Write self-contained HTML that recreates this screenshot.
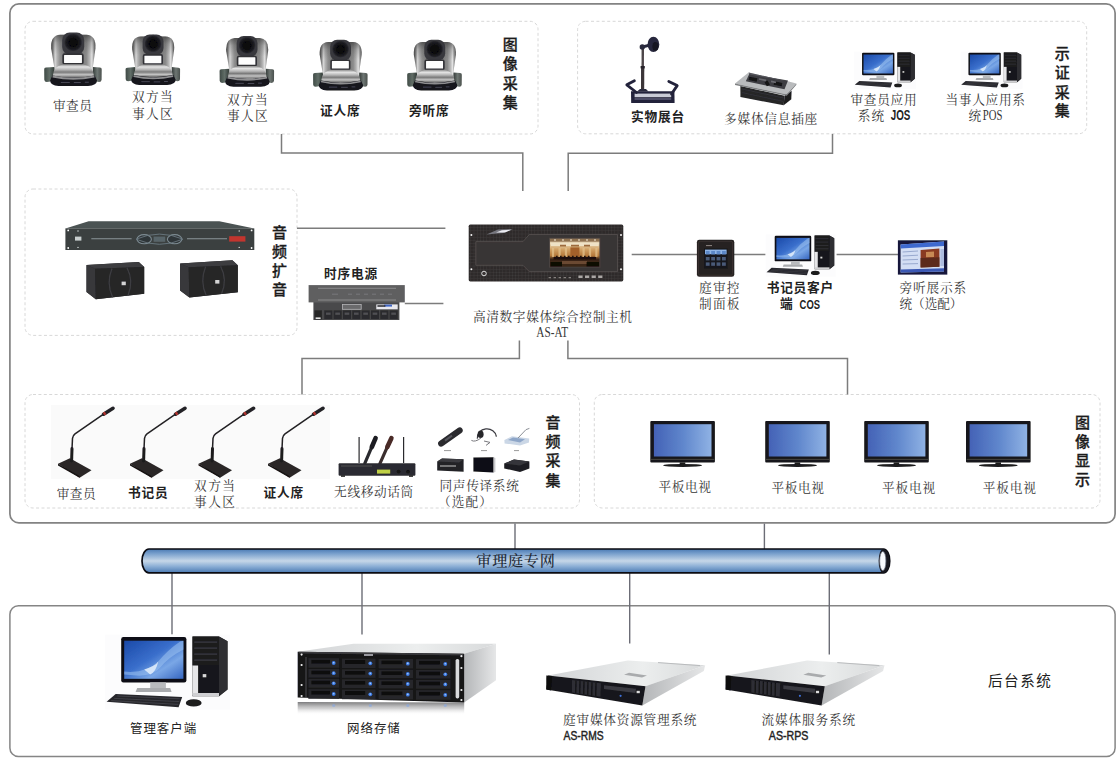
<!DOCTYPE html>
<html lang="zh"><head><meta charset="utf-8"><title>庭审系统拓扑图</title>
<style>
html,body{margin:0;padding:0;background:#fff;}
svg{display:block;}
.sf{font-family:'Liberation Serif','Noto Serif CJK SC',serif;font-weight:400;fill:#363636;}
.sd{font-family:'Liberation Serif','Noto Serif CJK SC',serif;font-weight:500;fill:#232b38;}
.hb{font-family:'Liberation Sans','Noto Sans CJK SC',sans-serif;font-weight:700;fill:#222;}
.hm{font-family:'Liberation Sans','Noto Sans CJK SC',sans-serif;font-weight:500;fill:#1c1c1c;stroke:#1c1c1c;stroke-width:0.3px;}
.hr{font-family:'Liberation Sans','Noto Sans CJK SC',sans-serif;font-weight:400;fill:#222;}
.ln{fill:none;stroke:#7c7c7c;stroke-width:1.5;}
.ln2{fill:none;stroke:#6c6d76;stroke-width:1.4;}
.db{fill:none;stroke:#d8d8d8;stroke-width:1;stroke-dasharray:3 2.4;}
</style></head><body>
<svg width="1117" height="759" viewBox="0 0 1117 759">

<defs>
<filter id="soft" x="-5%" y="-5%" width="110%" height="110%"><feGaussianBlur stdDeviation="0.45"/></filter>
<filter id="soft2" x="-5%" y="-5%" width="110%" height="110%"><feGaussianBlur stdDeviation="0.3"/></filter>
<linearGradient id="gSilverH" x1="0" x2="1" y1="0" y2="0">
 <stop offset="0" stop-color="#3e3e3e"/><stop offset="0.04" stop-color="#7a7a7a"/><stop offset="0.09" stop-color="#d6d6d6"/><stop offset="0.14" stop-color="#b0b0b0"/><stop offset="0.2" stop-color="#8e8e8e"/>
 <stop offset="0.3" stop-color="#767676"/><stop offset="0.7" stop-color="#7a7a7a"/><stop offset="0.8" stop-color="#8c8c8c"/><stop offset="0.87" stop-color="#b6b6b6"/><stop offset="0.92" stop-color="#e2e2e2"/><stop offset="0.97" stop-color="#8a8a8a"/><stop offset="1" stop-color="#444"/>
</linearGradient>
<linearGradient id="gYokeTop" x1="0" x2="0" y1="0" y2="1">
 <stop offset="0" stop-color="#303030" stop-opacity="0.6"/><stop offset="0.4" stop-color="#404040" stop-opacity="0.25"/><stop offset="1" stop-color="#555" stop-opacity="0"/>
</linearGradient>
<linearGradient id="gSilverV" x1="0" x2="0" y1="0" y2="1">
 <stop offset="0" stop-color="#8a8a8a"/><stop offset="0.2" stop-color="#e4e4e4"/><stop offset="0.42" stop-color="#b4b4b4"/><stop offset="0.6" stop-color="#7a7a7a"/><stop offset="0.8" stop-color="#c4c4c4"/><stop offset="1" stop-color="#6a6a6a"/>
</linearGradient>
<linearGradient id="gWingL" x1="0" x2="1" y1="0" y2="0">
 <stop offset="0" stop-color="#3f4a45"/><stop offset="0.5" stop-color="#616d67"/><stop offset="1" stop-color="#2f3834"/>
</linearGradient>
<linearGradient id="gWingR" x1="0" x2="1" y1="0" y2="0">
 <stop offset="0" stop-color="#343b38"/><stop offset="0.5" stop-color="#6e7673"/><stop offset="1" stop-color="#4a504d"/>
</linearGradient>
<radialGradient id="gLens" cx="0.5" cy="0.5" r="0.5">
 <stop offset="0" stop-color="#25252a"/><stop offset="0.45" stop-color="#0e0e12"/><stop offset="0.8" stop-color="#1d1d22"/><stop offset="1" stop-color="#3a3a40"/>
</radialGradient>
<linearGradient id="gScreen" x1="0" x2="1" y1="0" y2="1">
 <stop offset="0" stop-color="#1a49a8"/><stop offset="0.45" stop-color="#3a6fcc"/><stop offset="0.7" stop-color="#7aa7e6"/><stop offset="1" stop-color="#3565c0"/>
</linearGradient>
<linearGradient id="gTV" x1="0" x2="1" y1="0" y2="0">
 <stop offset="0" stop-color="#4462b6"/><stop offset="0.5" stop-color="#5f86cc"/><stop offset="1" stop-color="#8fb2e4"/>
</linearGradient>
<linearGradient id="gPipe" x1="0" x2="0" y1="0" y2="1">
 <stop offset="0" stop-color="#4a7ab4"/><stop offset="0.2" stop-color="#7ba1cd"/><stop offset="0.5" stop-color="#c6d7e8"/><stop offset="0.72" stop-color="#8db0d6"/><stop offset="1" stop-color="#4a79b2"/>
</linearGradient>
<linearGradient id="gTop" x1="0" x2="1" y1="0" y2="0">
 <stop offset="0" stop-color="#d2d4d6"/><stop offset="0.6" stop-color="#eceeee"/><stop offset="1" stop-color="#d8dadb"/>
</linearGradient>
<linearGradient id="gSide" x1="0" x2="1" y1="0" y2="0">
 <stop offset="0" stop-color="#b4b6b8"/><stop offset="1" stop-color="#e6e7e8"/>
</linearGradient>
<linearGradient id="gRefl" x1="0" x2="0" y1="0" y2="1">
 <stop offset="0" stop-color="#5a5a5c" stop-opacity="0.8"/><stop offset="0.5" stop-color="#9a9a9c" stop-opacity="0.45"/><stop offset="1" stop-color="#ffffff" stop-opacity="0"/>
</linearGradient>
<linearGradient id="gCourt" x1="0" x2="0" y1="0" y2="1">
 <stop offset="0" stop-color="#b79a74"/><stop offset="0.18" stop-color="#ead9b8"/><stop offset="0.38" stop-color="#d2a266"/><stop offset="0.6" stop-color="#b5793a"/><stop offset="0.72" stop-color="#3a2414"/><stop offset="1" stop-color="#1a120c"/>
</linearGradient>

<pattern id="pGrid" width="3.2" height="3.2" patternUnits="userSpaceOnUse"><path d="M0,0.4 H3.2 M0.4,0 V3.2" stroke="#ffffff" stroke-opacity="0.06" stroke-width="0.6" fill="none"/></pattern>

<!-- PTZ camera : 58 x 54 -->
<g id="cam">
 <path d="M0.4,37 Q0.2,35.4 2.2,35.2 L11,34.6 L11,48.6 L3,49.6 Q0.7,49.6 0.5,47.4 Z" fill="url(#gWingL)"/>
 <path d="M57.9,37 Q58.1,35.4 56.1,35.2 L49,34.6 L49,48.6 L55.3,49.6 Q57.6,49.6 57.8,47.4 Z" fill="url(#gWingR)"/>
 <path d="M7.4,16 Q6.6,3 16.4,2.4 L42.6,2.4 Q52.4,3 51.6,16 L48.6,38 L11,38 Z" fill="url(#gSilverH)"/>
 <path d="M7.4,16 Q6.6,3 16.4,2.4 L42.6,2.4 Q52.4,3 51.6,16 L50.8,22 L8.2,22 Z" fill="url(#gYokeTop)"/>
 <rect x="18.4" y="0.2" width="22" height="21.8" rx="7.4" ry="7.4" fill="#38383e"/>
 <circle cx="29.4" cy="10" r="9.3" fill="url(#gLens)"/>
 <circle cx="29.4" cy="10.3" r="4.4" fill="#07070a"/>
 <rect x="19.4" y="21.8" width="19.6" height="9.6" rx="1.2" fill="#fdfdfd" stroke="#303036" stroke-width="1.7"/>
 <path d="M9.2,45 Q8.6,33.8 20,31.8 L39,31.8 Q50.6,33.8 50,45 Z" fill="url(#gSilverV)"/>
 <path d="M8.6,43 Q29.4,47.4 50.8,43 L53.2,48 Q53.2,52.8 44,53.6 L15,53.6 Q6.4,52.8 6.4,48 Z" fill="#12121a"/>
 <path d="M9,43.2 Q29.4,47.8 50.4,43.2 L50.8,45 Q29.4,49.6 8.6,45 Z" fill="#8e8e90"/>
 <path d="M17,50 H26 M30,50.2 H37 M41,49.8 H45" stroke="#5d5d6c" stroke-width="0.8"/>
</g>

<!-- desktop PC : 122.5 x 72.4 -->
<g id="pc">
 <rect x="-1" y="-1" width="125" height="75" fill="#fcfcfd"/>
 <path d="M86.3,0.9 L112.8,0.9 L121.3,5.7 L121.3,54 L112.8,60.7 L86.3,60.7 Z" fill="#18181a"/>
 <path d="M112.8,0.9 L121.3,5.7 L121.3,54 L112.8,60.7 Z" fill="#2d2d30"/>
 <rect x="86.3" y="0.9" width="26.5" height="29" fill="#1b1b1e"/>
 <path d="M88,6.5 H111 M88,12.5 H111 M88,18.5 H111 M88,24.5 H111" stroke="#3c3c42" stroke-width="1.1"/>
 <rect x="86.3" y="29.9" width="5.6" height="29.4" fill="#e6e6e8"/>
 <rect x="86.3" y="57.4" width="26.5" height="3.4" fill="#cfcfd2"/>
 <rect x="96.5" y="38.5" width="3.6" height="3.2" fill="#d8d8d8"/>
 <rect x="15" y="1.5" width="65.2" height="45.3" rx="2.2" fill="#101014"/>
 <rect x="18" y="5.1" width="59.2" height="38.1" fill="url(#gScreen)"/>
 <path d="M18,36 Q40,38 52,26 Q62,14 74,6 L77.2,5.1 L77.2,14 Q62,22 54,32 Q46,41 30,40 L18,39 Z" fill="#9cc2f0" opacity="0.55"/>
 <path d="M38,34 Q50,30 52,26 Q50,36 44,39 Z" fill="#e8f2fc" opacity="0.8"/>
 <rect x="44" y="46.8" width="15.7" height="6" fill="#b9bbbe"/>
 <path d="M31,52.4 L64,52.4 L65.4,56.4 L29.4,56.4 Z" fill="#a9abae"/>
 <path d="M9.5,58.3 L76,61.3 L72.4,71.6 L0.4,66.1 Z" fill="#25252b"/>
 <path d="M11,60.4 L73.5,63.2 M8,62.8 L73,66 M5,65 L72,68.8" stroke="#4a4a52" stroke-width="0.7"/>
 <ellipse cx="87.5" cy="67.3" rx="7.9" ry="3.7" fill="#1a1a1e"/>
</g>

<!-- gooseneck mic ; origin at (45,400) region, stem x=27 -->
<g id="mic">
 <path d="M13,63.8 L24.9,58.2 L46.5,70.3 L34.6,77.8 Z" fill="#2c2828"/>
 <path d="M13,63.8 L34.6,76 L34.6,77.8 L13,65.4 Z" fill="#141212"/>
 <path d="M26.6,61 L27,48.6" stroke="#1c1a1c" stroke-width="3" stroke-linecap="round" fill="none"/>
 <path d="M27,49 L27.5,38.4 Q27.8,35.4 30,33.8 L60,13.2" stroke="#222024" stroke-width="1.5" fill="none"/>
 <path d="M58.6,14.2 L68,8.3" stroke="#232126" stroke-width="3.6" stroke-linecap="round" fill="none"/>
 <path d="M58.6,14.2 L60.6,12.95" stroke="#b0342e" stroke-width="3.2" fill="none"/>
</g>

<!-- flat TV : origin at frame top-left, 64.6 x 45.6 -->
<g id="tv">
 <rect x="0" y="0" width="64.6" height="41.6" rx="1" fill="#17171a"/>
 <rect x="3.6" y="3.2" width="57.6" height="32.3" fill="url(#gTV)"/>
 <path d="M0.6,38.4 H64" stroke="#55504c" stroke-width="0.8"/>
 <rect x="29.4" y="41.4" width="5.6" height="2.6" fill="#1c1c1e"/>
 <ellipse cx="32.3" cy="44.4" rx="19.4" ry="1.5" fill="#1a1a1c"/>
</g>

<!-- 2U server ; origin at (540,650) -->
<g id="srv">
 <path d="M8.1,25.5 L87.8,10.5 L165.2,15.3 L105.5,36.3 Z" fill="url(#gTop)"/>
 <path d="M105.5,36.3 L165.2,15.3 L163.8,21 L102.3,55.6 Z" fill="url(#gSide)"/>
 <path d="M8.1,25.5 L105.5,36.3 L102.3,55.6 L6.4,39.5 Z" fill="#16161a"/>
 <path d="M6.3,25.4 L12,26 L11.2,40.4 L6.2,39.6 Z" fill="#0c0c0e"/>
 <path d="M32,30 L61,33.2 L60.4,46.8 L32,42.4 Z" fill="#2e2e34"/>
 <path d="M36,30.6 L35.8,42.9 M40,31 L39.8,43.5 M44,31.5 L43.8,44.1 M48,31.9 L47.8,44.8 M52,32.3 L51.8,45.4 M56,32.8 L55.8,46" stroke="#0a0a0c" stroke-width="1"/>
 <path d="M64,35.2 L96,38.8 L95.4,43 L64,39 Z" fill="#3b3b42"/>
 <circle cx="80.6" cy="45.8" r="1.1" fill="#3d6fd8"/>
 <rect x="96.6" y="40.8" width="3.2" height="2.4" fill="#dcdcdc"/>
 <path d="M84,24.8 L102,27.6 L107,25.4 L89,22.8 Z" fill="#a9abad"/>
 <path d="M118,12.6 L160,15.6" stroke="#b9bbbd" stroke-width="1"/>
</g>
</defs>

<rect x="0" y="0" width="1117" height="759" fill="#ffffff"/>
<rect x="9.9" y="3.9" width="1105.2" height="519" rx="9" ry="9" fill="none" stroke="#838383" stroke-width="1.7"/>
<rect x="9.9" y="605.8" width="1105.2" height="150.7" rx="8.5" ry="8.5" fill="none" stroke="#858585" stroke-width="1.5"/>
<rect x="25.0" y="21.3" width="513.0" height="112.7" rx="8" ry="8" class="db"/>
<rect x="577.6" y="21.3" width="509.1" height="112.5" rx="8" ry="8" class="db"/>
<rect x="25.0" y="189.0" width="272.0" height="146.4" rx="8" ry="8" class="db"/>
<rect x="25.0" y="394.5" width="554.5" height="113.5" rx="8" ry="8" class="db"/>
<rect x="594.3" y="394.5" width="505.7" height="113.5" rx="8" ry="8" class="db"/>
<path class="ln" d="M281.5,134 V153.1 H522.8 V191"/>
<path class="ln" d="M832.5,134 V153.3 H568.2 V191"/>
<path class="ln" d="M297,228.2 H445.4"/>
<path class="ln" d="M404.8,303.5 H443.4"/>
<path class="ln" d="M631.7,254.5 H697.5"/>
<path class="ln" d="M733.5,254.5 H765.5"/>
<path class="ln" d="M836.6,254.5 H898.5"/>
<path class="ln" d="M519.4,340.4 V358.6 H302 V394.5"/>
<path class="ln" d="M567.9,340.4 V358.6 H847.5 V394.5"/>
<path class="ln2" d="M515,523.6 V549"/>
<path class="ln2" d="M764.4,523.6 V549"/>
<path class="ln2" d="M172,573 V634.5"/>
<path class="ln2" d="M362,573 V634.5"/>
<path class="ln2" d="M629.7,573 V643.4"/>
<path class="ln2" d="M829.3,573 V654.4"/>
<path d="M149,549 H883.5 A6.2,11.9 0 0 1 883.5,572.9 H149 A7,11.95 0 0 1 149,549 Z" fill="url(#gPipe)" stroke="#0b0b12" stroke-width="1.7"/>
<path d="M883.2,549 A6.3,11.95 0 0 1 883.2,572.9 A4.6,11.95 0 0 1 883.2,549 Z" fill="#17171f"/>
<ellipse cx="882.8" cy="561" rx="3.1" ry="9.6" fill="#f7f9fd" stroke="#6f7686" stroke-width="0.7"/>
<text x="476.34" y="565.70" class="sd" font-size="15.2" letter-spacing="0.66">审理庭专网</text>
<g filter="url(#soft)">
<use href="#cam" transform="translate(43.80,32.40) scale(1.0000,1.0000)"/>
<use href="#cam" transform="translate(125.20,34.20) scale(0.9480,0.9500)"/>
<use href="#cam" transform="translate(219.20,35.80) scale(0.9480,0.9500)"/>
<use href="#cam" transform="translate(312.70,39.60) scale(0.9480,0.9500)"/>
<use href="#cam" transform="translate(406.80,39.60) scale(0.9500,0.9500)"/>
</g>
<text x="52.91" y="109.71" class="sf" font-size="12.7" letter-spacing="0.47">审查员</text>
<text x="131.91" y="101.11" class="sf" font-size="12.7" letter-spacing="1.30">双方当</text>
<text x="131.91" y="118.01" class="sf" font-size="12.7" letter-spacing="1.30">事人区</text>
<text x="227.11" y="104.21" class="sf" font-size="12.7" letter-spacing="1.27">双方当</text>
<text x="227.11" y="120.41" class="sf" font-size="12.7" letter-spacing="1.27">事人区</text>
<text x="320.01" y="114.91" class="hb" font-size="12.7" letter-spacing="0.87">证人席</text>
<text x="408.91" y="114.91" class="hb" font-size="12.7" letter-spacing="0.80">旁听席</text>
<text x="510.3" y="49.90" class="hm" font-size="15" text-anchor="middle">图</text>
<text x="510.3" y="68.50" class="hm" font-size="15" text-anchor="middle">像</text>
<text x="510.3" y="88.50" class="hm" font-size="15" text-anchor="middle">采</text>
<text x="510.3" y="108.10" class="hm" font-size="15" text-anchor="middle">集</text>
<g filter="url(#soft)">
<g>
 <path d="M642.8,49 L642.6,91" stroke="#4d4649" stroke-width="2.4" fill="none"/>
 <path d="M642.7,68 L642.6,91" stroke="#3a3438" stroke-width="3.2" fill="none"/>
 <rect x="640.6" y="66" width="4.2" height="2.4" fill="#26222a"/>
 <path d="M642.4,47 L648.6,45.4" stroke="#26263a" stroke-width="3" stroke-linecap="round"/>
 <circle cx="642.3" cy="47" r="2.7" fill="#2a2a3e"/>
 <ellipse cx="653.4" cy="44.4" rx="5.9" ry="7.7" fill="#27273c"/>
 <ellipse cx="655.4" cy="46.4" rx="3" ry="4.4" fill="#171722"/>
 <path d="M631,91.2 H674.4 L674.6,103 H631.2 Z" fill="#23233a"/>
 <path d="M637,91.4 L640,89 H646 L648.4,91.4 Z" fill="#2a2a3e"/>
 <rect x="634.6" y="93.6" width="36.6" height="3.6" fill="#c9cbd6"/>
 <rect x="634.6" y="98.4" width="36.6" height="1.2" fill="#6c6c84"/>
 <path d="M636.5,92.5 L626.8,84.8 L634.4,80.8" stroke="#23233a" stroke-width="2.8" fill="none" stroke-linejoin="round" stroke-linecap="round"/>
 <path d="M671.5,94 L677.2,85.6 L668.8,81.4" stroke="#23233a" stroke-width="2.8" fill="none" stroke-linejoin="round" stroke-linecap="round"/>
</g>
<g>
 <path d="M740.4,86 L784.5,95.7 L783.7,105.3 L740.4,97.1 Z" fill="#252528"/>
 <path d="M784.5,95.7 L791.6,90.7 L791.3,99.2 L783.7,105.3 Z" fill="#1b1b1e"/>
 <path d="M742,89 L783.6,98 M742,92.6 L783.4,101.4" stroke="#34343a" stroke-width="0.8"/>
 <path d="M735,83.5 L748.6,72.4 L796.3,83.5 L786.6,94.2 Z" fill="#b9bbbd"/>
 <path d="M735,83.5 L786.6,94.2 L796.3,83.5 L796.4,84.8 L786.8,95.8 L735,85 Z" fill="#7f8183"/>
 <path d="M745.8,81.3 L749.4,73.8 L788,80.6 L784.5,89.2 Z" fill="#3d3d42"/>
 <path d="M748.6,72.4 L749.8,74.6 L788.4,81.6 L796.3,83.5 Z" fill="#56565c"/>
 <path d="M749,78.4 L757,80 M766,81.4 L768.4,85.4 M774,83 L782,84.6" stroke="#121215" stroke-width="3.4"/>
 <path d="M759,79 L766,80.4 M771,81.4 L776,82.4" stroke="#6a6a70" stroke-width="1.6"/>
</g>
<use href="#pc" transform="translate(854.60,52.00) scale(0.4963,0.4972)"/>
<use href="#pc" transform="translate(961.00,52.00) scale(0.4963,0.4972)"/>
</g>
<text x="631.11" y="121.21" class="hb" font-size="12.7" letter-spacing="0.78">实物展台</text>
<text x="724.11" y="123.21" class="sf" font-size="12.7" letter-spacing="0.72">多媒体信息插座</text>
<text x="850.51" y="104.21" class="sf" font-size="12.7" letter-spacing="0.66">审查员应用</text>
<text x="857.71" y="119.81" class="sf" font-size="12.7" letter-spacing="1.15">系统</text>
<text x="890.8" y="120.3" class="hb" font-size="14" textLength="19.6" lengthAdjust="spacingAndGlyphs">JOS</text>
<text x="945.41" y="104.21" class="sf" font-size="12.7" letter-spacing="0.68">当事人应用系</text>
<text x="968.51" y="119.81" class="sf" font-size="12.7" letter-spacing="1.81">统</text>
<text x="982.8" y="120.4" class="sf" font-size="14.8" textLength="19.6" lengthAdjust="spacingAndGlyphs">POS</text>
<text x="1062.3" y="58.80" class="hm" font-size="15" text-anchor="middle">示</text>
<text x="1062.3" y="78.10" class="hm" font-size="15" text-anchor="middle">证</text>
<text x="1062.3" y="97.50" class="hm" font-size="15" text-anchor="middle">采</text>
<text x="1062.3" y="116.30" class="hm" font-size="15" text-anchor="middle">集</text>
<g filter="url(#soft)">
<g>
 <path d="M88.6,221.3 L219.4,221.3 L254.3,228.6 L65.4,228.6 Z" fill="#4b5252"/>
 <rect x="65.4" y="228.4" width="188.9" height="21.6" fill="#3b4141"/>
 <path d="M91.3,238.8 H131.6 M187,238.8 H227" stroke="#8a9498" stroke-width="1.1"/>
 <ellipse cx="144.2" cy="239.2" rx="7.2" ry="4.6" fill="#2f3538" stroke="#7d8b92" stroke-width="1.1"/>
 <ellipse cx="174.6" cy="239.2" rx="7.2" ry="4.6" fill="#2f3538" stroke="#7d8b92" stroke-width="1.1"/>
 <path d="M136,239.2 Q159.4,229 183,239.2 Q159.4,249.4 136,239.2 Z" fill="none" stroke="#6a7880" stroke-width="0.9"/>
 <rect x="153.6" y="236.6" width="11.6" height="5.2" fill="#59656a"/>
 <rect x="229.2" y="236.2" width="16.2" height="5.4" fill="#c2362e"/>
 <rect x="75" y="236.6" width="6.4" height="4" fill="#c9cfcf"/>
 <circle cx="68.2" cy="230.4" r="0.9" fill="#fff"/><circle cx="68.2" cy="248" r="0.9" fill="#fff"/>
 <circle cx="251.6" cy="230.4" r="0.9" fill="#fff"/><circle cx="251.6" cy="248" r="0.9" fill="#fff"/>
 <circle cx="78" cy="231" r="0.7" fill="#dfe3e3"/><circle cx="78" cy="247.4" r="0.7" fill="#dfe3e3"/>
 <circle cx="239.2" cy="231" r="0.7" fill="#dfe3e3"/><circle cx="239.2" cy="247.4" r="0.7" fill="#dfe3e3"/>
</g>
<g transform="translate(0.0,0.0)">
<path d="M86.5,265.1 L138.8,261.9 L144.2,266.9 L144.2,293.8 L95.8,299.2 L86.5,292 Z" fill="#2a2a2c"/>
 <path d="M86.5,265.1 L138.8,261.9 L144.2,266.9 L95,268.8 Z" fill="#3c3c3f"/>
 <path d="M86.5,265.1 L95,268.8 L95.8,299.2 L86.5,292 Z" fill="#38383b"/>
 <path d="M95,268.8 L144.2,266.9 L144.2,293.8 L95.8,299.2 Z" fill="#262628"/>
 <path d="M112,268.4 Q106,283 112.6,297.2 M127,267.8 Q134,281 128,295.4" stroke="#3e3e42" stroke-width="1.2" fill="none"/>
 <rect x="121.6" y="281.6" width="4.2" height="3.6" fill="#d4d4d4"/>
</g>
<g transform="translate(93.6,-1.6)">
<path d="M86.5,265.1 L138.8,261.9 L144.2,266.9 L144.2,293.8 L95.8,299.2 L86.5,292 Z" fill="#2a2a2c"/>
 <path d="M86.5,265.1 L138.8,261.9 L144.2,266.9 L95,268.8 Z" fill="#3c3c3f"/>
 <path d="M86.5,265.1 L95,268.8 L95.8,299.2 L86.5,292 Z" fill="#38383b"/>
 <path d="M95,268.8 L144.2,266.9 L144.2,293.8 L95.8,299.2 Z" fill="#262628"/>
 <path d="M112,268.4 Q106,283 112.6,297.2 M127,267.8 Q134,281 128,295.4" stroke="#3e3e42" stroke-width="1.2" fill="none"/>
 <rect x="121.6" y="281.6" width="4.2" height="3.6" fill="#d4d4d4"/>
</g>
</g>
<text x="279.5" y="237.50" class="hm" font-size="15" text-anchor="middle">音</text>
<text x="279.5" y="256.80" class="hm" font-size="15" text-anchor="middle">频</text>
<text x="279.5" y="275.80" class="hm" font-size="15" text-anchor="middle">扩</text>
<text x="279.5" y="295.10" class="hm" font-size="15" text-anchor="middle">音</text>
<g filter="url(#soft)">
<g>
 <rect x="313.4" y="301" width="86" height="19" fill="#4a4a4c"/>
 <rect x="308.6" y="285.1" width="96.2" height="17.3" fill="#5f5f61"/>
 <path d="M318,288.3 H396 M318,300 H396" stroke="#8a8a8c" stroke-width="1"/>
 <path d="M332,294.2 H338 M348,294.2 H352 M356,294.2 H360 M364,294.2 H368 M372,294.2 H376 M380,294.2 H384 M388,294.2 H392" stroke="#77777a" stroke-width="1"/>
 <rect x="342.4" y="304.4" width="18.8" height="4.9" fill="#6a6a6c" stroke="#b5b5b7" stroke-width="0.8"/>
 <rect x="376.3" y="304.4" width="21.4" height="4.9" fill="#e8e8ee"/>
 <rect x="384" y="304.6" width="8" height="2" fill="#3f66c6"/>
 <rect x="377.4" y="305.2" width="8" height="1.6" fill="#35353a"/>
 <rect x="314.5" y="310.3" width="7.4" height="9" fill="#262628"/>
 <rect x="315.6" y="317.4" width="5" height="1.6" fill="#e4e4e4"/>
<rect x="324.20" y="310.3" width="8.3" height="8.8" fill="#2c2c2e"/>
<rect x="326.00" y="312.6" width="4.6" height="2.2" fill="#505054"/>
<rect x="333.53" y="310.3" width="8.3" height="8.8" fill="#2c2c2e"/>
<rect x="335.33" y="312.6" width="4.6" height="2.2" fill="#505054"/>
<rect x="342.86" y="310.3" width="8.3" height="8.8" fill="#2c2c2e"/>
<rect x="344.66" y="312.6" width="4.6" height="2.2" fill="#505054"/>
<rect x="352.19" y="310.3" width="8.3" height="8.8" fill="#2c2c2e"/>
<rect x="353.99" y="312.6" width="4.6" height="2.2" fill="#505054"/>
<rect x="361.52" y="310.3" width="8.3" height="8.8" fill="#2c2c2e"/>
<rect x="363.32" y="312.6" width="4.6" height="2.2" fill="#505054"/>
<rect x="370.85" y="310.3" width="8.3" height="8.8" fill="#2c2c2e"/>
<rect x="372.65" y="312.6" width="4.6" height="2.2" fill="#505054"/>
<rect x="380.18" y="310.3" width="8.3" height="8.8" fill="#2c2c2e"/>
<rect x="381.98" y="312.6" width="4.6" height="2.2" fill="#505054"/>
<rect x="389.51" y="310.3" width="8.3" height="8.8" fill="#2c2c2e"/>
<rect x="391.31" y="312.6" width="4.6" height="2.2" fill="#505054"/>
</g></g>
<text x="324.01" y="278.21" class="hb" font-size="12.7" letter-spacing="0.83">时序电源</text>
<g filter="url(#soft)">
<g>
 <rect x="468.7" y="224.6" width="154.6" height="56.8" rx="1.6" fill="#2e2a2a"/>
 <rect x="468.7" y="224.6" width="154.6" height="56.8" rx="1.6" fill="url(#pGrid)"/>
 <path d="M475.8,241.6 H523 L529.3,234.5 H617.5 V271.6 H529.3 L523,265.3 H475.8 Z" fill="#393434" stroke="#5c5654" stroke-width="0.7"/>
 <rect x="549.5" y="238.2" width="50.4" height="29" fill="url(#gCourt)"/>
 <rect x="549.5" y="238.2" width="50.4" height="3.4" fill="#8d6f50"/>
 <path d="M554,240 H556 M562,240 H564 M570,240 H572 M578,240 H580 M586,240 H588 M594,240 H596" stroke="#f6ecd6" stroke-width="1.2"/>
 <path d="M551,244.4 H598.6" stroke="#efe2c6" stroke-width="3.2"/>
 <path d="M560,245.6 H566 M571,245.6 H579 M584,245.6 H590" stroke="#9c6a3c" stroke-width="1.6"/>
 <path d="M553,248 V257 M559.6,248 V257 M566,248 V257 M583.6,248 V257 M590,248 V257 M596.4,248 V257" stroke="#e2c08a" stroke-width="2.2" opacity="0.75"/>
 <rect x="570.4" y="247.4" width="9" height="9" fill="#a3602c"/>
 <path d="M553.6,258.2 H596" stroke="#1c100a" stroke-width="2.6"/>
 <path d="M556,256.6 h1.6 m2.4,0 h1.6 m2.4,0 h1.6 m2.4,0 h1.6 m2.4,0 h1.6 m2.4,0 h1.6 m2.4,0 h1.6 m2.4,0 h1.6 m2.4,0 h1.6" stroke="#20130c" stroke-width="1.6"/>
 <rect x="549.9" y="260.4" width="49.6" height="6.6" fill="#3a2618"/>
 <rect x="562" y="261" width="25" height="3" fill="#6b4a30"/>
 <rect x="550.6" y="262" width="11.4" height="4.6" fill="#0c0806"/><rect x="586.6" y="262" width="12.4" height="4.6" fill="#0c0806"/>
 <rect x="549.5" y="238.2" width="50.4" height="29" fill="none" stroke="#4c4644" stroke-width="0.9"/>
 <path d="M486.5,234.4 L498,229.4 L512.6,229 L503,233 Z" fill="#77777f"/>
 <path d="M496,232.6 L502,230.2 L511.6,229.8 L505,232.4 Z" fill="#ececf2"/>
 <circle cx="484" cy="273.5" r="2.3" fill="#3a3636" stroke="#dcdcdc" stroke-width="1"/>
 <path d="M548.6,277.6 H551 M553.6,277.6 H556 M558.6,277.6 H561 M563.6,277.6 H566 M568.6,277.6 H571" stroke="#85807e" stroke-width="1.4"/>
 <path d="M578.4,276.8 H582.6 M585,276.8 H589.2 M591.6,276.8 H595.8 M598.2,276.8 H602.4" stroke="#aaa6a4" stroke-width="2.6"/>
 <circle cx="471.4" cy="235.1" r="1" fill="#f4f4f4"/><circle cx="471.4" cy="269.3" r="1" fill="#f4f4f4"/>
 <circle cx="621" cy="235.1" r="1" fill="#f4f4f4"/><circle cx="621" cy="269.3" r="1" fill="#f4f4f4"/>
</g>
</g>
<text x="472.91" y="320.81" class="sf" font-size="12.7" letter-spacing="0.62">高清数字媒体综合控制主机</text>
<text x="536.3" y="336.7" class="sf" font-size="13.8" textLength="31.8" lengthAdjust="spacingAndGlyphs">AS-AT</text>
<g filter="url(#soft)">
<g>
 <rect x="696.9" y="239.8" width="37.4" height="37" rx="2.4" fill="#272120"/>
 <rect x="698.6" y="241.4" width="34" height="33.8" rx="1.6" fill="none" stroke="#3e3634" stroke-width="0.8"/>
 <rect x="704" y="248.6" width="23.6" height="20" fill="#15171d"/>
 <rect x="705" y="249.6" width="21.6" height="4.6" fill="#8fb4e6"/>
 <path d="M706,245.6 H712" stroke="#9a9490" stroke-width="0.9"/>
<rect x="705.8" y="251.0" width="3.8" height="3.4" fill="#5c88c8"/>
<rect x="711.2" y="251.0" width="3.8" height="3.4" fill="#5c88c8"/>
<rect x="716.6" y="251.0" width="3.8" height="3.4" fill="#5c88c8"/>
<rect x="722.0" y="251.0" width="3.8" height="3.4" fill="#5c88c8"/>
<rect x="705.8" y="257.0" width="3.8" height="3.4" fill="#4a5a78"/>
<rect x="711.2" y="257.0" width="3.8" height="3.4" fill="#4a5a78"/>
<rect x="716.6" y="257.0" width="3.8" height="3.4" fill="#4a5a78"/>
<rect x="722.0" y="257.0" width="3.8" height="3.4" fill="#4a5a78"/>
<rect x="705.8" y="262.4" width="3.8" height="3.4" fill="#4a5a78"/>
<rect x="711.2" y="262.4" width="3.8" height="3.4" fill="#4a5a78"/>
<rect x="716.6" y="262.4" width="3.8" height="3.4" fill="#4a5a78"/>
<rect x="722.0" y="262.4" width="3.8" height="3.4" fill="#4a5a78"/>
</g>
<use href="#pc" transform="translate(766.30,235.00) scale(0.5600,0.5635)"/>
<g>
 <rect x="897.9" y="240.3" width="49.4" height="34.3" fill="#16183a"/>
 <path d="M900.6,244.4 L944,241.6 L944,271.4 L900.6,272.6 Z" fill="#d3def4"/>
 <path d="M900.6,244.4 L944,241.6 L944,246 L900.6,248.4 Z" fill="#3d69cf"/>
 <path d="M920.6,250 L939.4,248.6 L939.4,266.8 L920.6,267.4 Z" fill="#8a3b22"/>
 <path d="M920.6,258 L939.4,257.2 L939.4,266.8 L920.6,267.4 Z" fill="#5b2a1c"/>
 <path d="M926,252 L934,251.6 L934,257 L926,257.2 Z" fill="#c88a54"/>
 <path d="M902.6,252 L918,251 M902.6,256 L918,255.2 M902.6,260 L918,259.4 M902.6,264 L918,263.6" stroke="#98a9cf" stroke-width="1"/>
 <path d="M900.6,269.4 L944,268.2 L944,271.4 L900.6,272.6 Z" fill="#3b59b4"/>
 <rect x="940.4" y="249" width="3.6" height="17" fill="#aebde0"/>
</g>
</g>
<text x="699.11" y="292.41" class="sf" font-size="12.7" letter-spacing="1.14">庭审控</text>
<text x="699.11" y="308.41" class="sf" font-size="12.7" letter-spacing="1.14">制面板</text>
<text x="766.81" y="292.41" class="hb" font-size="12.7" letter-spacing="0.72">书记员客户</text>
<text x="779.91" y="308.41" class="hb" font-size="12.7" letter-spacing="1.81">端</text>
<text x="799.6" y="309.2" class="hb" font-size="13.6" textLength="20.4" lengthAdjust="spacingAndGlyphs">COS</text>
<text x="899.51" y="292.01" class="sf" font-size="12.7" letter-spacing="0.80">旁听展示系</text>
<text x="899.51" y="308.21" class="sf" font-size="12.7" letter-spacing="-0.12">统（选配）</text>
<rect x="51" y="405" width="279" height="74" fill="#fafafa"/>
<g filter="url(#soft)">
<use href="#mic" transform="translate(45.00,400.00) scale(1.0000,1.0000)"/>
<use href="#mic" transform="translate(117.00,400.00) scale(1.0000,1.0000)"/>
<use href="#mic" transform="translate(185.50,400.00) scale(1.0000,1.0000)"/>
<use href="#mic" transform="translate(255.00,400.00) scale(1.0000,1.0000)"/>
<g>
 <path d="M359.1,437 V463 M403.6,437 V463" stroke="#2a2a2e" stroke-width="1.2"/>
 <path d="M364.8,463.4 L371.5,447.6" stroke="#2a2a2e" stroke-width="3.2" stroke-linecap="round"/>
 <path d="M371.8,447 L375.6,438.2" stroke="#1c1c20" stroke-width="4.6" stroke-linecap="round"/>
 <path d="M379.8,463.8 L387,447.6" stroke="#3a2e2e" stroke-width="3.2" stroke-linecap="round"/>
 <path d="M387.3,447 L391.4,438.2" stroke="#4a2a28" stroke-width="4.6" stroke-linecap="round"/>
 <rect x="338.6" y="463.2" width="76.8" height="12.6" rx="1" fill="#2c2c30"/>
 <rect x="341" y="475.4" width="4" height="1.4" fill="#18181a"/><rect x="409" y="475.4" width="4" height="1.4" fill="#18181a"/>
 <path d="M341,466 H372" stroke="#55555c" stroke-width="0.8"/>
 <rect x="377" y="469.6" width="13.2" height="4" fill="#bfd044"/>
 <circle cx="398.6" cy="471.6" r="1.9" fill="#121214"/><circle cx="408" cy="471.6" r="1.9" fill="#121214"/>
</g>
<g>
 <path d="M441.2,443.6 L459.6,430.4" stroke="#2a2a2e" stroke-width="6.2" stroke-linecap="round"/>
 <path d="M445,440.6 L452,435.6" stroke="#55555c" stroke-width="2"/>
 <path d="M477.4,438.6 A9.4,8.6 0 0 1 496.4,436.6" fill="none" stroke="#3a3a40" stroke-width="1.3"/>
 <ellipse cx="480.6" cy="434.2" rx="3" ry="3.8" fill="#26262a"/>
 <path d="M481,438 Q475,442.6 471.4,440.4 M484,441 L490,442.4 L486,445.4" fill="none" stroke="#77777c" stroke-width="1"/>
 <path d="M504.4,440 L512,436.2 L529.2,438.4 L529,442.4 L520,445.6 L504.6,443.4 Z" fill="#cbd7e6"/>
 <path d="M508,440 L513,437.6 L525,439.2 L520,442.4 Z" fill="#8ea6c8"/>
 <path d="M518,438 L526,429.6 L529.4,428.4" fill="none" stroke="#8b8f96" stroke-width="1"/>
 <path d="M444,450.6 H451 M481,450.6 H487 M514,450.6 H519" stroke="#9a9a9a" stroke-width="1"/>
 <path d="M437.2,461.6 L442,458.4 L463.6,459.2 L463.6,471.8 L437.2,470.6 Z" fill="#222226"/>
 <path d="M437.2,461.6 L442,458.4 L463.6,459.2 L459,462.4 Z" fill="#3b3b40"/>
 <path d="M440,466 H456" stroke="#c8c8c8" stroke-width="1"/>
 <path d="M473.4,457.6 L493.6,457.2 L493.6,472.6 L473.4,471.6 Z" fill="#0f0f12"/>
 <path d="M493.6,457.2 L495.4,458 L495.4,472 L493.6,472.6 Z" fill="#c9c9cc"/>
 <path d="M504.2,463.6 L514,459.6 L529.4,461.4 L529.4,468.6 L520,472 L504.2,468.4 Z" fill="#1f1f23"/>
 <path d="M504.2,463.6 L514,459.6 L529.4,461.4 L520,465.4 Z" fill="#35353a"/>
</g>
</g>
<text x="56.71" y="498.21" class="sf" font-size="12.7" letter-spacing="0.47">审查员</text>
<text x="128.11" y="496.81" class="hb" font-size="12.7" letter-spacing="0.74">书记员</text>
<text x="194.11" y="490.01" class="sf" font-size="12.7" letter-spacing="1.44">双方当</text>
<text x="194.11" y="506.41" class="sf" font-size="12.7" letter-spacing="1.44">事人区</text>
<text x="263.51" y="496.81" class="hb" font-size="12.7" letter-spacing="0.80">证人席</text>
<text x="334.11" y="496.21" class="sf" font-size="12.7" letter-spacing="0.58">无线移动话筒</text>
<text x="439.51" y="490.01" class="sf" font-size="12.7" letter-spacing="0.65">同声传译系统</text>
<text x="438.11" y="506.21" class="sf" font-size="12.7" letter-spacing="1.03">（选配）</text>
<text x="552.9" y="427.90" class="hm" font-size="15" text-anchor="middle">音</text>
<text x="552.9" y="446.90" class="hm" font-size="15" text-anchor="middle">频</text>
<text x="552.9" y="466.20" class="hm" font-size="15" text-anchor="middle">采</text>
<text x="552.9" y="485.70" class="hm" font-size="15" text-anchor="middle">集</text>
<g filter="url(#soft2)">
<use href="#tv" transform="translate(650.30,421.00) scale(1.0000,1.0000)"/>
<use href="#tv" transform="translate(765.20,421.00) scale(1.0000,1.0000)"/>
<use href="#tv" transform="translate(864.20,421.00) scale(1.0000,1.0000)"/>
<use href="#tv" transform="translate(966.00,421.00) scale(1.0000,1.0000)"/>
</g>
<text x="658.41" y="491.21" class="sf" font-size="12.7" letter-spacing="0.63">平板电视</text>
<text x="771.61" y="491.61" class="sf" font-size="12.7" letter-spacing="0.53">平板电视</text>
<text x="882.01" y="491.61" class="sf" font-size="12.7" letter-spacing="0.85">平板电视</text>
<text x="982.71" y="492.41" class="sf" font-size="12.7" letter-spacing="0.80">平板电视</text>
<text x="1082.5" y="427.50" class="hm" font-size="15" text-anchor="middle">图</text>
<text x="1082.5" y="446.80" class="hm" font-size="15" text-anchor="middle">像</text>
<text x="1082.5" y="466.10" class="hm" font-size="15" text-anchor="middle">显</text>
<text x="1082.5" y="485.20" class="hm" font-size="15" text-anchor="middle">示</text>
<g filter="url(#soft)">
<use href="#pc" transform="translate(106.20,635.60) scale(1.0000,1.0000)"/>
<g>
 <path d="M297.7,702 L464.2,702.4 L464.2,715 L297.7,715 Z" fill="url(#gRefl)"/>
 <path d="M297.7,651.8 L353.5,643.7 L496,643.7 L464.2,653.7 Z" fill="url(#gTop)"/>
 <path d="M464.2,653.7 L496,643.7 L496,680.3 L464.2,702.4 Z" fill="url(#gSide)"/>
 <path d="M297.7,651.8 L464.2,653.7 L464.2,702.4 L297.7,697.6 Z" fill="#121214"/>
 <path d="M298.6,652.6 L463.4,654.6" stroke="#3a3a3e" stroke-width="1.6"/>
 <rect x="455.6" y="659" width="3.6" height="39.4" rx="1.6" fill="#d9dadc"/>
 <path d="M306,657 V698" stroke="#5b5b60" stroke-width="0.9"/>
 <rect x="364" y="654" width="9" height="2" fill="#9a9aa0"/>
 <circle cx="301.6" cy="654.6" r="1.1" fill="#f0f0f0"/><circle cx="301.6" cy="665" r="1.1" fill="#f0f0f0"/><circle cx="301.6" cy="685" r="1.1" fill="#f0f0f0"/><circle cx="301.6" cy="696" r="1.1" fill="#f0f0f0"/>
 <circle cx="461.4" cy="656.2" r="1.1" fill="#f0f0f0"/><circle cx="461.4" cy="668" r="1.1" fill="#f0f0f0"/><circle cx="461.4" cy="690" r="1.1" fill="#f0f0f0"/><circle cx="461.4" cy="700" r="1.1" fill="#f0f0f0"/>
<rect x="308.3" y="658.1" width="30.8" height="9.7" fill="#26262a"/>
<rect x="311.3" y="659.9" width="18.5" height="3.6" fill="#0a0a0c"/>
<circle cx="333.7" cy="663.0" r="1.9" fill="#3c7be4"/>
<circle cx="333.7" cy="662.7" r="0.8" fill="#a9cbff"/>
<rect x="308.3" y="668.9" width="30.8" height="8.7" fill="#26262a"/>
<rect x="311.3" y="670.7" width="18.5" height="3.6" fill="#0a0a0c"/>
<circle cx="333.7" cy="673.2" r="1.9" fill="#3c7be4"/>
<circle cx="333.7" cy="673.0" r="0.8" fill="#a9cbff"/>
<rect x="308.3" y="678.9" width="30.8" height="8.9" fill="#26262a"/>
<rect x="311.3" y="680.7" width="18.5" height="3.6" fill="#0a0a0c"/>
<circle cx="333.7" cy="683.3" r="1.9" fill="#3c7be4"/>
<circle cx="333.7" cy="683.0" r="0.8" fill="#a9cbff"/>
<rect x="308.3" y="689.1" width="30.8" height="9.7" fill="#26262a"/>
<rect x="311.3" y="690.9" width="18.5" height="3.6" fill="#0a0a0c"/>
<circle cx="333.7" cy="694.0" r="1.9" fill="#3c7be4"/>
<circle cx="333.7" cy="693.7" r="0.8" fill="#a9cbff"/>
<circle cx="333.7" cy="705.5" r="1.6" fill="#7fa6ea" opacity="0.55"/>
<rect x="342.0" y="658.5" width="33.7" height="9.7" fill="#26262a"/>
<rect x="345.0" y="660.2" width="20.2" height="3.6" fill="#0a0a0c"/>
<circle cx="370.3" cy="663.3" r="1.9" fill="#3c7be4"/>
<circle cx="370.3" cy="663.0" r="0.8" fill="#a9cbff"/>
<rect x="342.0" y="669.2" width="33.7" height="8.7" fill="#26262a"/>
<rect x="345.0" y="671.0" width="20.2" height="3.6" fill="#0a0a0c"/>
<circle cx="370.3" cy="673.6" r="1.9" fill="#3c7be4"/>
<circle cx="370.3" cy="673.3" r="0.8" fill="#a9cbff"/>
<rect x="342.0" y="679.2" width="33.7" height="8.9" fill="#26262a"/>
<rect x="345.0" y="681.0" width="20.2" height="3.6" fill="#0a0a0c"/>
<circle cx="370.3" cy="683.7" r="1.9" fill="#3c7be4"/>
<circle cx="370.3" cy="683.4" r="0.8" fill="#a9cbff"/>
<rect x="342.0" y="689.5" width="33.7" height="9.7" fill="#26262a"/>
<rect x="345.0" y="691.2" width="20.2" height="3.6" fill="#0a0a0c"/>
<circle cx="370.3" cy="694.3" r="1.9" fill="#3c7be4"/>
<circle cx="370.3" cy="694.0" r="0.8" fill="#a9cbff"/>
<circle cx="370.3" cy="705.5" r="1.6" fill="#7fa6ea" opacity="0.55"/>
<rect x="378.5" y="658.8" width="34.7" height="9.7" fill="#26262a"/>
<rect x="381.5" y="660.6" width="20.8" height="3.6" fill="#0a0a0c"/>
<circle cx="407.8" cy="663.7" r="1.9" fill="#3c7be4"/>
<circle cx="407.8" cy="663.4" r="0.8" fill="#a9cbff"/>
<rect x="378.5" y="669.6" width="34.7" height="8.7" fill="#26262a"/>
<rect x="381.5" y="671.4" width="20.8" height="3.6" fill="#0a0a0c"/>
<circle cx="407.8" cy="674.0" r="1.9" fill="#3c7be4"/>
<circle cx="407.8" cy="673.7" r="0.8" fill="#a9cbff"/>
<rect x="378.5" y="679.6" width="34.7" height="8.9" fill="#26262a"/>
<rect x="381.5" y="681.4" width="20.8" height="3.6" fill="#0a0a0c"/>
<circle cx="407.8" cy="684.0" r="1.9" fill="#3c7be4"/>
<circle cx="407.8" cy="683.8" r="0.8" fill="#a9cbff"/>
<rect x="378.5" y="689.8" width="34.7" height="9.7" fill="#26262a"/>
<rect x="381.5" y="691.6" width="20.8" height="3.6" fill="#0a0a0c"/>
<circle cx="407.8" cy="694.7" r="1.9" fill="#3c7be4"/>
<circle cx="407.8" cy="694.4" r="0.8" fill="#a9cbff"/>
<circle cx="407.8" cy="705.5" r="1.6" fill="#7fa6ea" opacity="0.55"/>
<rect x="416.0" y="659.1" width="34.7" height="9.7" fill="#26262a"/>
<rect x="419.0" y="660.9" width="20.8" height="3.6" fill="#0a0a0c"/>
<circle cx="445.3" cy="664.0" r="1.9" fill="#3c7be4"/>
<circle cx="445.3" cy="663.7" r="0.8" fill="#a9cbff"/>
<rect x="416.0" y="669.9" width="34.7" height="8.7" fill="#26262a"/>
<rect x="419.0" y="671.7" width="20.8" height="3.6" fill="#0a0a0c"/>
<circle cx="445.3" cy="674.3" r="1.9" fill="#3c7be4"/>
<circle cx="445.3" cy="674.0" r="0.8" fill="#a9cbff"/>
<rect x="416.0" y="679.9" width="34.7" height="8.9" fill="#26262a"/>
<rect x="419.0" y="681.7" width="20.8" height="3.6" fill="#0a0a0c"/>
<circle cx="445.3" cy="684.4" r="1.9" fill="#3c7be4"/>
<circle cx="445.3" cy="684.1" r="0.8" fill="#a9cbff"/>
<rect x="416.0" y="690.1" width="34.7" height="9.7" fill="#26262a"/>
<rect x="419.0" y="691.9" width="20.8" height="3.6" fill="#0a0a0c"/>
<circle cx="445.3" cy="695.0" r="1.9" fill="#3c7be4"/>
<circle cx="445.3" cy="694.7" r="0.8" fill="#a9cbff"/>
<circle cx="445.3" cy="705.5" r="1.6" fill="#7fa6ea" opacity="0.55"/>
</g>
<use href="#srv" transform="translate(540.00,650.00) scale(1.0000,1.0000)"/>
<use href="#srv" transform="translate(719.30,650.00) scale(1.0000,1.0000)"/>
</g>
<text x="130.03" y="732.84" class="hr" font-size="12.5" letter-spacing="0.91">管理客户端</text>
<text x="347.02" y="732.84" class="hr" font-size="12.5" letter-spacing="0.94">网络存储</text>
<text x="563.11" y="724.21" class="sf" font-size="12.7" letter-spacing="0.73">庭审媒体资源管理系统</text>
<text x="563.6" y="740.3" class="hr" font-size="13.3" textLength="40.0" lengthAdjust="spacingAndGlyphs" stroke="#222" stroke-width="0.45">AS-RMS</text>
<text x="761.51" y="724.41" class="sf" font-size="12.7" letter-spacing="0.80">流媒体服务系统</text>
<text x="768.8" y="740.2" class="hr" font-size="13.3" textLength="39.6" lengthAdjust="spacingAndGlyphs" stroke="#222" stroke-width="0.45">AS-RPS</text>
<text x="988.08" y="685.88" class="hr" font-size="14.6" letter-spacing="1.45">后台系统</text>
</svg></body></html>
